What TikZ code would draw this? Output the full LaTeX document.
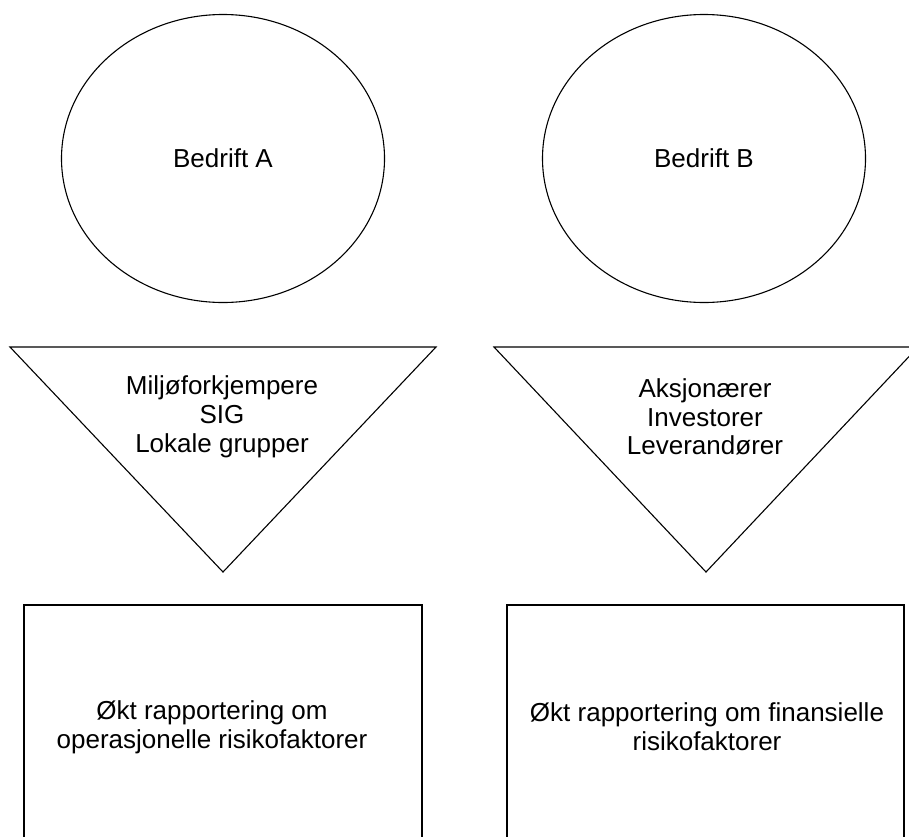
\documentclass[tikz,border=0pt]{standalone}
\usepackage{fontspec}
\setmainfont{Liberation Sans}
\usetikzlibrary{shapes.geometric}

\tikzset{
  outline/.style={draw=black, line width=1.1pt},
  firm/.style={outline, ellipse, minimum width=323pt, minimum height=288pt, inner sep=0pt},
  label/.style={align=center, inner sep=0pt, font=\fontsize{26}{28.8}\selectfont},
}

\begin{document}
\begin{tikzpicture}[x=1pt, y=-1pt]
  \useasboundingbox (0,0) rectangle (909,836);
  \clip (0,0) rectangle (909,836);

  % the two companies
  \node[firm, label] (firmA) at (223,158.5) {Bedrift A};
  \node[firm, label] (firmB) at (704,158.5) {Bedrift B};

  % stakeholder funnels
  \draw[outline, line join=miter] (10,347) -- (436,347) -- (223,572) -- cycle;
  \draw[outline, line join=miter] (494,347) -- (918,347) -- (706,572) -- cycle;
  \node[label] (groupsA) at (222,417) {Miljøforkjempere\\SIG\\Lokale grupper};
  \node[label] (groupsB) at (705,417) {Aksjonærer\\Investorer\\Leverandører};

  % reporting outcomes
  \draw[outline] (24,900) -- (24,605) -- (422,605) -- (422,900);
  \draw[outline] (507,900) -- (507,605) -- (904,605) -- (904,900);
  \node[label] (reportA) at (212,727) {Økt rapportering om\\operasjonelle risikofaktorer};
  \node[label] (reportB) at (707,727) {Økt rapportering om finansielle\\risikofaktorer};
\end{tikzpicture}
\end{document}
